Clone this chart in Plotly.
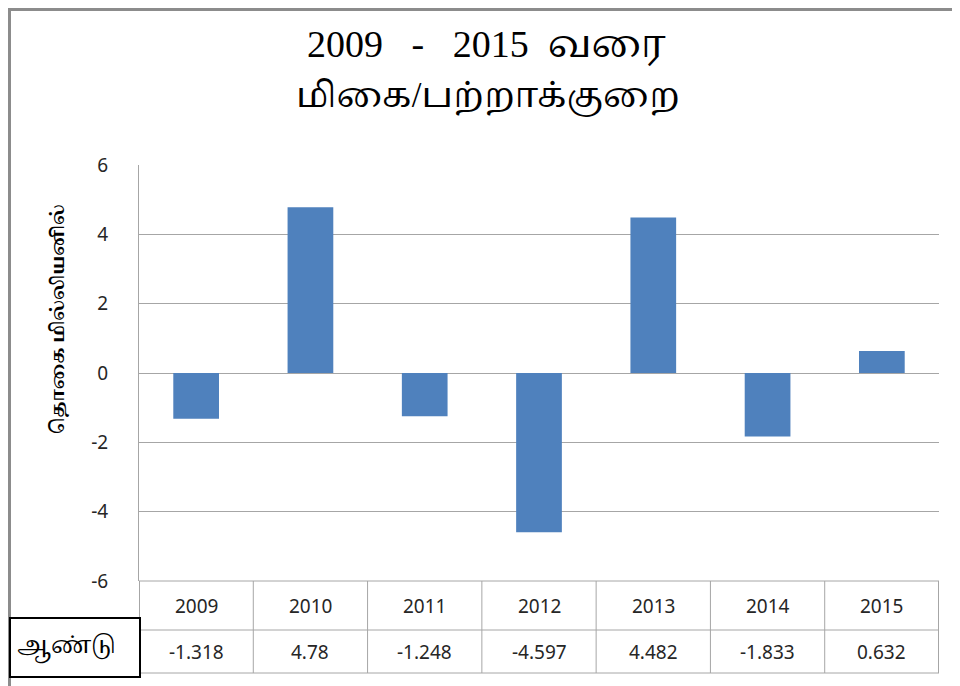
import plotly.graph_objects as go

years = ["2009", "2010", "2011", "2012", "2013", "2014", "2015"]
values = [-1.318, 4.78, -1.248, -4.597, 4.482, -1.833, 0.632]
value_labels = ["-1.318", "4.78", "-1.248", "-4.597", "4.482", "-1.833", "0.632"]
y_ticks = [-6, -4, -2, 0, 2, 4, 6]

title_line1 = "2009&nbsp;&nbsp;&nbsp;-&nbsp;&nbsp;&nbsp;2015&nbsp;&nbsp;வரை"
title_line2 = "மிகை/பற்றாக்குறை"
y_title = "தொகை மில்லியனில்"
row_label = "ஆண்டு"

OFF = 8  # default page body margin
W, H = 960 - OFF, 686 - OFF
# target window pixels: plot left 139, right 939, top 165, bottom 581
L, R, T = 139 - OFF, W - (939 - OFF), 165 - OFF
B = H - (581 - OFF)
PH = H - T - B
PW = W - L - R


def py(pix):  # window pixel y -> paper y
    return (H - B - (pix - OFF)) / PH


def px(pix):  # window pixel x -> paper x
    return (pix - OFF - L) / PW


idx = list(range(len(years)))
grid = "#A6A6A6"
text_col = "#262626"
tick_font = dict(family="Noto Sans, Open Sans, Liberation Sans, sans-serif", size=19, color=text_col)
tamil_serif = "Liberation Serif, Noto Serif Tamil, Noto Sans Tamil, serif"

fig = go.Figure(go.Bar(x=idx, y=values, width=0.4, marker=dict(color="#4F81BD", line=dict(width=0))))

fig.update_layout(
    width=W, height=H,
    margin=dict(l=L, r=R, t=T, b=B),
    paper_bgcolor="white", plot_bgcolor="white",
    showlegend=False,
    xaxis=dict(range=[-0.5, len(years) - 0.5], showticklabels=False, showgrid=False,
               zeroline=False, showline=False, ticks=""),
    yaxis=dict(range=[-6, 6], tickvals=y_ticks, ticktext=[str(v) for v in y_ticks],
               showgrid=True, gridcolor=grid, gridwidth=1, zeroline=False,
               showline=True, linecolor=grid, linewidth=1, ticks="",
               tickfont=tick_font, ticklabelstandoff=26),
)

shapes = []
row_mid = py(630)
row_bot = py(673)
for yy in [0, row_mid, row_bot]:
    shapes.append(dict(type="line", xref="x", yref="paper", x0=-0.5, x1=len(years) - 0.5,
                       y0=yy, y1=yy, line=dict(color=grid, width=1)))
for i in range(len(years) + 1):
    shapes.append(dict(type="line", xref="x", yref="paper", x0=i - 0.5, x1=i - 0.5,
                       y0=0, y1=row_bot, line=dict(color=grid, width=2 if i in (0, len(years)) else 1)))
# outer chart frame (top and left), drawn at the figure's own edge
shapes.append(dict(type="line", xref="paper", yref="paper", x0=px(OFF), x1=px(960), y0=py(OFF + 1.5),
                   y1=py(OFF + 1.5), line=dict(color="#8C8C8C", width=3)))
shapes.append(dict(type="line", xref="paper", yref="paper", x0=px(OFF + 1.5), x1=px(OFF + 1.5), y0=py(OFF),
                   y1=py(690), line=dict(color="#8C8C8C", width=3)))
# row label box
shapes.append(dict(type="rect", xref="paper", yref="paper", x0=px(10), x1=px(140), y0=py(618), y1=py(677),
                   line=dict(color="black", width=2), fillcolor="white", layer="above"))
fig.update_layout(shapes=shapes)

ann = []
for i, (yr, lab) in enumerate(zip(years, value_labels)):
    ann.append(dict(x=i, y=(0 + row_mid) / 2, xref="x", yref="paper", text=yr, showarrow=False,
                    font=tick_font, xanchor="center", yanchor="middle"))
    ann.append(dict(x=i, y=(row_mid + row_bot) / 2, xref="x", yref="paper", text=lab, showarrow=False,
                    font=tick_font, xanchor="center", yanchor="middle"))
ann.append(dict(x=px(66), y=py(648), xref="paper", yref="paper", text=row_label, showarrow=False,
                font=dict(family=tamil_serif, size=23, color="black"), xanchor="center", yanchor="middle"))
ann.append(dict(x=px(58), y=py(319), xref="paper", yref="paper", text="<b>" + y_title + "</b>",
                showarrow=False, textangle=-90,
                font=dict(family=tamil_serif, size=18, color="black"), xanchor="center", yanchor="middle"))
ann.append(dict(x=px(486), y=py(45), xref="paper", yref="paper", text=title_line1, showarrow=False,
                font=dict(family=tamil_serif, size=38, color="black"), xanchor="center", yanchor="middle"))
ann.append(dict(x=px(488), y=py(96), xref="paper", yref="paper", text=title_line2, showarrow=False,
                font=dict(family=tamil_serif, size=35, color="black"), xanchor="center", yanchor="middle"))
fig.update_layout(annotations=ann)

fig.write_html("out.html")
